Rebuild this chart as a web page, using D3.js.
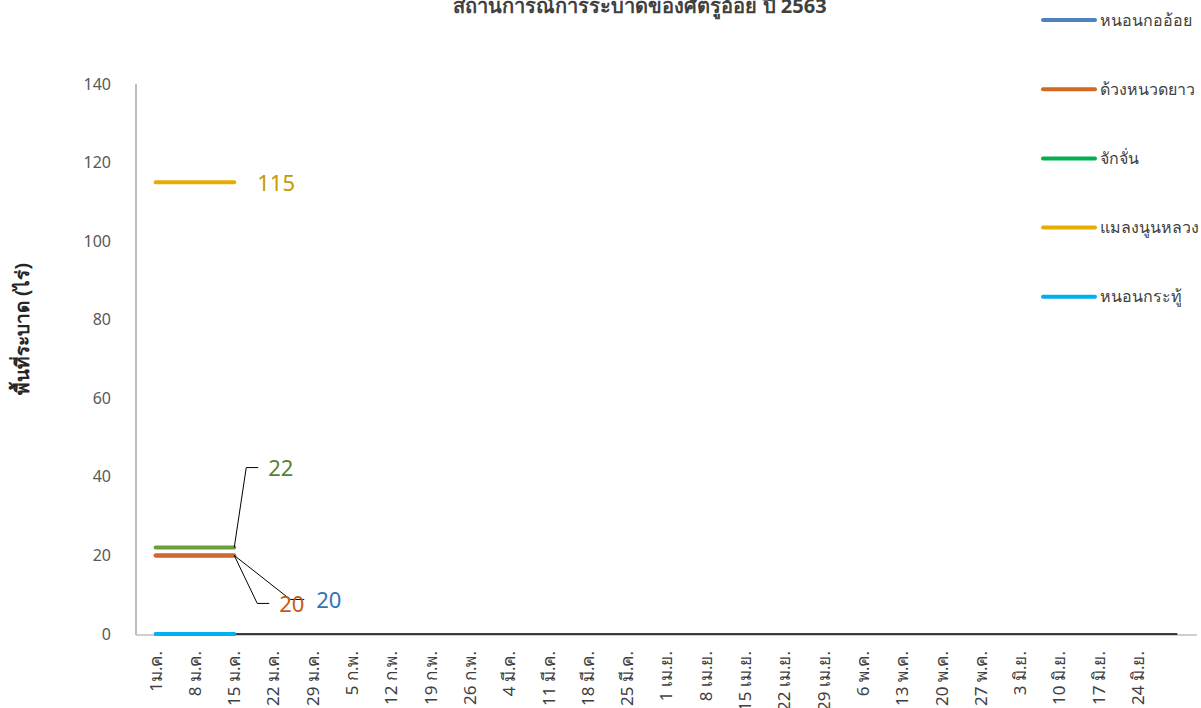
<!DOCTYPE html>
<html>
<head>
<meta charset="utf-8">
<script src="https://cdn.jsdelivr.net/npm/d3@7"></script>
<style>
  body { margin: 0; background: #fff; }
  svg { display: block; font-family: 'Noto Sans', Lato, 'DejaVu Sans', sans-serif; }
</style>
</head>
<body>
<svg id="chart" width="1201" height="708"></svg>
<script>
var title = 'สถานการณ์การระบาดของศัตรูอ้อย ปี 2563';
var yTitle = 'พื้นที่ระบาด (ไร่)';

var weeks = [
  '1ม.ค.', '8 ม.ค.', '15 ม.ค.', '22 ม.ค.', '29 ม.ค.',
  '5 ก.พ.', '12 ก.พ.', '19 ก.พ.', '26 ก.พ.',
  '4 มี.ค.', '11 มี.ค.', '18 มี.ค.', '25 มี.ค.',
  '1 เม.ย.', '8 เม.ย.', '15 เม.ย.', '22 เม.ย.', '29 เม.ย.',
  '6 พ.ค.', '13 พ.ค.', '20 พ.ค.', '27 พ.ค.',
  '3 มิ.ย.', '10 มิ.ย.', '17 มิ.ย.', '24 มิ.ย.', ''
];

var yTicks = [0, 20, 40, 60, 80, 100, 120, 140];

var seriesNames = ['หนอนกออ้อย', 'ด้วงหนวดยาว', 'จักจั่น', 'แมลงนูนหลวง', 'หนอนกระทู้'];
var lineColors = ['#4a7ebb', '#d0692b', '#6a9f3c', '#e6ac00', '#00b0f0'];
var legendColors = ['#4f81bd', '#d2691e', '#00b050', '#e8ac00', '#00b0f0'];
var labelColors = ['#2e75b6', '#c55a11', '#548235', '#c49a00', null];

// only the first three weeks were reported
var borerValues = [20, 20, 20];
var longhornValues = [20, 20, 20];
var cicadaValues = [22, 22, 22];
var whiteGrubValues = [115, 115, 115];
var armywormValues = [0, 0, 0];
var seriesValues = [borerValues, longhornValues, cicadaValues, whiteGrubValues, armywormValues];

// unnamed series sitting on zero for the rest of the year
var restValues = weeks.map(function(w, i) { return i < 2 ? null : 0; });

// where each end-of-line label sits, relative to its last point
var labelOffsets = [[82, 45], [45, 49], [34, -79], [23, 1], null];

var svg = d3.select('#chart');
var plot = {left: 136, right: 1197, top: 84, bottom: 634};

var x = d3.scalePoint().domain(d3.range(weeks.length)).range([plot.left, plot.right]).padding(0.5);
var y = d3.scaleLinear().domain([0, 140]).range([plot.bottom, plot.top]);

svg.append('text')
  .attr('x', 640).attr('y', 13)
  .attr('text-anchor', 'middle')
  .attr('font-size', 20).attr('font-weight', 'bold')
  .attr('fill', '#404040')
  .text(title);

svg.append('text')
  .attr('transform', 'translate(29,' + ((plot.top + plot.bottom) / 2 - 30) + ') rotate(-90)')
  .attr('text-anchor', 'middle')
  .attr('font-size', 19).attr('font-weight', 'bold')
  .attr('fill', '#262626')
  .text(yTitle);

// axes drawn by hand so they look like the office chart
svg.selectAll('.y-tick')
  .data(yTicks)
  .enter().append('text')
  .classed('y-tick', true)
  .attr('x', 111).attr('y', function(d) { return y(d); })
  .attr('dy', '0.35em')
  .attr('text-anchor', 'end')
  .attr('font-size', 16)
  .attr('fill', '#595959')
  .text(String);

svg.append('line')
  .attr('x1', plot.left).attr('x2', plot.left)
  .attr('y1', plot.top).attr('y2', y(0) + 1)
  .attr('stroke', '#a6a6a6').attr('stroke-width', 1.5);

svg.append('line')
  .attr('x1', plot.left).attr('x2', plot.right)
  .attr('y1', y(0) + 1).attr('y2', y(0) + 1)
  .attr('stroke', '#bfbfbf').attr('stroke-width', 1.5);

svg.selectAll('.x-tick')
  .data(weeks)
  .enter().append('text')
  .classed('x-tick', true)
  .attr('transform', function(d, i) { return 'translate(' + x(i) + ',651) rotate(-90)'; })
  .attr('dy', '0.35em')
  .attr('text-anchor', 'end')
  .attr('font-size', 17)
  .attr('fill', '#404040')
  .text(String);

var line = d3.line()
  .defined(function(d) { return d !== null; })
  .x(function(d, i) { return x(i); })
  .y(function(d) { return y(d); });

svg.append('path')
  .datum(restValues)
  .attr('d', line)
  .attr('fill', 'none')
  .attr('stroke', '#000')
  .attr('stroke-width', 1.5);

svg.selectAll('.series')
  .data(seriesValues)
  .enter().append('path')
  .classed('series', true)
  .attr('d', line)
  .attr('fill', 'none')
  .attr('stroke', function(d, i) { return lineColors[i]; })
  .attr('stroke-width', 4)
  .attr('stroke-linecap', 'round');

// data labels with leader lines
seriesValues.forEach(function(values, i) {
  if (!labelOffsets[i]) return;
  var last = values.length - 1;
  var px = x(last);
  var py = y(values[last]);
  var lx = px + labelOffsets[i][0];
  var ly = py + labelOffsets[i][1];

  if (Math.abs(labelOffsets[i][1]) > 10) {
    var elbow = labelOffsets[i][0] > 60 ? lx - 26 : lx - 22;
    var knee = labelOffsets[i][0] > 60 ? lx - 12 : lx - 10;
    svg.append('polyline')
      .attr('points', [[px, py], [elbow, ly - 1], [knee, ly - 1]].join(' '))
      .attr('fill', 'none')
      .attr('stroke', '#000')
      .attr('stroke-width', 1);
  }

  svg.append('text')
    .attr('x', lx).attr('y', ly)
    .attr('dy', '0.35em')
    .attr('font-size', 22)
    .attr('fill', labelColors[i])
    .text(values[last]);
});

var legend = svg.selectAll('.legend-item')
  .data(seriesNames)
  .enter().append('g')
  .classed('legend-item', true)
  .attr('transform', function(d, i) { return 'translate(1043,' + (20 + i * 69.2) + ')'; });

legend.append('line')
  .attr('x1', 0).attr('x2', 52)
  .attr('stroke', function(d, i) { return legendColors[i]; })
  .attr('stroke-width', 4)
  .attr('stroke-linecap', 'round');

legend.append('text')
  .attr('x', 57).attr('dy', '0.35em')
  .attr('font-size', 16)
  .attr('fill', '#404040')
  .text(String);
</script>
</body>
</html>
